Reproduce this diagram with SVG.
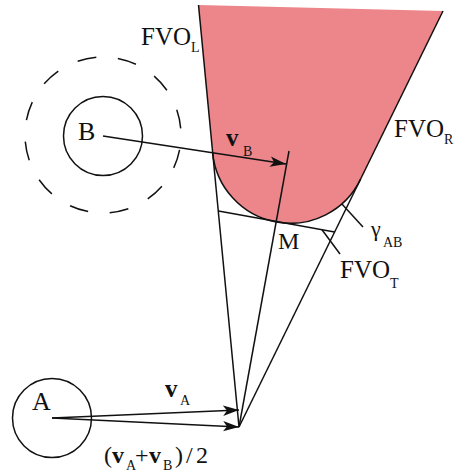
<svg xmlns="http://www.w3.org/2000/svg" width="454" height="475" viewBox="0 0 454 475">
<style>
.ln{stroke:#111;stroke-width:1.5;fill:none}
.t{font-family:"Liberation Serif","Times New Roman",serif;fill:#111}
.b{font-weight:bold}
.s{font-size:14px}
</style>
<defs>
<marker id="arr" markerUnits="userSpaceOnUse" markerWidth="18" markerHeight="12" viewBox="0 0 18 12" refX="16" refY="6" orient="auto">
<path d="M16,6 L0,0.8 L4,6 L0,11.2 Z" fill="#111"/>
</marker>
</defs>
<rect width="454" height="475" fill="#fff"/>
<g id="fvo">
<path d="M198.5,5 L443,11 L360.6,179.1 A78 78 0 0 1 212.6,152.1 Z" fill="#ED868A"/>
<path class="ln" d="M360.6,179.1 A78 78 0 0 1 212.6,152.1"/>
</g>
<g id="node-B">
<circle cx="103" cy="136" r="39.5" class="ln"/>
<circle cx="103" cy="135" r="78" class="ln" pathLength="360" stroke-dasharray="14 16" stroke-dashoffset="19"/>
<text class="t" x="78" y="140" font-size="26">B</text>
</g>
<g id="node-A">
<circle cx="52" cy="418" r="39.5" class="ln"/>
<text class="t" x="32" y="410" font-size="26">A</text>
</g>
<g id="connectors" class="ln">
<line x1="239" y1="427" x2="198.5" y2="5"/>
<line x1="239" y1="427" x2="443" y2="11"/>
<line x1="239" y1="427" x2="289" y2="151"/>
<line x1="218.5" y1="210.9" x2="334.6" y2="232.1"/>
<line x1="341.7" y1="203.7" x2="363" y2="227"/>
<line x1="322" y1="229.8" x2="340" y2="254"/>
<line x1="52" y1="418" x2="239" y2="410" marker-end="url(#arr)"/>
<line x1="52" y1="418" x2="239" y2="427" marker-end="url(#arr)"/>
<line x1="103" y1="136" x2="286" y2="164" marker-end="url(#arr)"/>
</g>
<g id="labels" class="t">
<text x="141" y="45" font-size="25">FVO<tspan class="s" x="191" y="52">L</tspan></text>
<text x="394" y="137" font-size="25">FVO<tspan class="s" x="444" y="144">R</tspan></text>
<text x="340" y="278" font-size="25">FVO<tspan class="s" x="390" y="288">T</tspan></text>
<text x="371" y="236" font-size="22">γ<tspan class="s" x="383" y="247">AB</tspan></text>
<text x="278" y="249" font-size="24">M</text>
<text x="226" y="146" font-size="25"><tspan class="b">v</tspan><tspan class="s" x="243" y="156">B</tspan></text>
<text x="165" y="397" font-size="25"><tspan class="b">v</tspan><tspan class="s" x="180" y="405">A</tspan></text>
<text y="463" font-size="24"><tspan x="104">(</tspan><tspan class="b" x="112">v</tspan><tspan class="s" x="126" y="470">A</tspan><tspan x="135" y="463">+</tspan><tspan class="b" x="149">v</tspan><tspan class="s" x="163" y="470">B</tspan><tspan x="175" y="463">)</tspan><tspan x="186">/</tspan><tspan x="196">2</tspan></text>
</g>
</svg>
